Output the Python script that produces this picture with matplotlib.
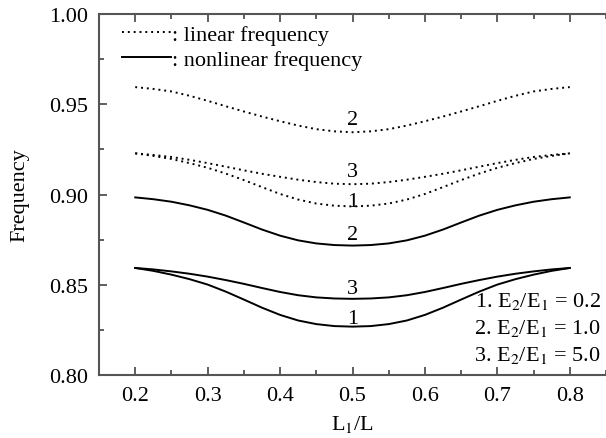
import numpy as np
import matplotlib
matplotlib.use("Agg")
import matplotlib.pyplot as plt
from matplotlib.ticker import MultipleLocator

plt.rcParams['font.family'] = 'serif'
plt.rcParams['font.serif'] = ['Liberation Serif', 'DejaVu Serif']
plt.rcParams['mathtext.fontset'] = 'stix'

# L1/L positions
ratio = [0.2, 0.225, 0.25, 0.275, 0.3, 0.325, 0.35, 0.375, 0.4, 0.425, 0.45, 0.475, 0.5,
         0.525, 0.55, 0.575, 0.6, 0.625, 0.65, 0.675, 0.7, 0.725, 0.75, 0.775, 0.8]

# linear frequency, cases 1-3
lin_1 = [0.9228, 0.9214, 0.9197, 0.9174, 0.9148, 0.9116, 0.9080, 0.9041, 0.9003, 0.8972, 0.8950, 0.8938, 0.8934,
         0.8938, 0.8950, 0.8972, 0.9003, 0.9041, 0.9080, 0.9116, 0.9148, 0.9174, 0.9197, 0.9214, 0.9228]
lin_2 = [0.9595, 0.9585, 0.9571, 0.9547, 0.9519, 0.9489, 0.9460, 0.9432, 0.9406, 0.9382, 0.9362, 0.9350, 0.9345,
         0.9350, 0.9362, 0.9382, 0.9406, 0.9432, 0.9460, 0.9489, 0.9519, 0.9547, 0.9571, 0.9585, 0.9595]
lin_3 = [0.9228, 0.9219, 0.9208, 0.9192, 0.9174, 0.9154, 0.9134, 0.9115, 0.9098, 0.9082, 0.9069, 0.9060, 0.9057,
         0.9060, 0.9069, 0.9082, 0.9098, 0.9115, 0.9134, 0.9154, 0.9174, 0.9192, 0.9208, 0.9219, 0.9228]

# nonlinear frequency, cases 1-3
non_1 = [0.8593, 0.8577, 0.8556, 0.8531, 0.8501, 0.8462, 0.8418, 0.8373, 0.8333, 0.8302, 0.8282, 0.8271, 0.8268,
         0.8271, 0.8282, 0.8302, 0.8333, 0.8373, 0.8418, 0.8462, 0.8501, 0.8531, 0.8556, 0.8577, 0.8593]
non_2 = [0.8984, 0.8974, 0.8960, 0.8940, 0.8915, 0.8883, 0.8845, 0.8806, 0.8772, 0.8746, 0.8729, 0.8720, 0.8717,
         0.8720, 0.8729, 0.8746, 0.8772, 0.8806, 0.8845, 0.8883, 0.8915, 0.8940, 0.8960, 0.8974, 0.8984]
non_3 = [0.8593, 0.8585, 0.8574, 0.8561, 0.8545, 0.8526, 0.8505, 0.8482, 0.8460, 0.8442, 0.8430, 0.8424, 0.8422,
         0.8424, 0.8430, 0.8442, 0.8460, 0.8482, 0.8505, 0.8526, 0.8545, 0.8561, 0.8574, 0.8585, 0.8593]

# curve labels at L1/L = 0.5 (baseline heights)
curve_tags = ['2', '3', '1', '2', '3', '1']
tag_y = [0.9390, 0.9101, 0.8935, 0.8753, 0.8453, 0.8288]

case_text = ['1. E$_2$/E$_1$ = 0.2', '2. E$_2$/E$_1$ = 1.0', '3. E$_2$/E$_1$ = 5.0']

fs = 16

fig = plt.figure(figsize=(6.06, 4.39), dpi=100)
ax = fig.add_axes([0.1634, 0.1435, 0.8366, 0.8223])

dot = (0, (1, 2))
lw = 1.4
h_lin = None
for ys in (lin_1, lin_2, lin_3):
    h_lin, = ax.plot(ratio, ys, color='black', linestyle=dot, lw=lw)
h_non = None
for ys in (non_1, non_2, non_3):
    h_non, = ax.plot(ratio, ys, color='black', linestyle='-', lw=lw)

for t, y in zip(curve_tags, tag_y):
    ax.text(0.5, y, t, ha='center', va='baseline', fontsize=fs)

for i, s in enumerate(case_text):
    ax.text(0.99, 0.19 - i * 0.074, s, transform=ax.transAxes,
            ha='right', va='baseline', fontsize=fs)

ax.legend([h_lin, h_non], [': linear frequency', ': nonlinear frequency'],
          loc='upper left', bbox_to_anchor=(0.045, 0.972), frameon=False,
          fontsize=fs, handlelength=2.2, handletextpad=0.05,
          borderpad=0, borderaxespad=0, labelspacing=0.22)

ax.set_xlim(0.15, 0.85)
ax.set_ylim(0.80, 1.00)
ax.xaxis.set_major_locator(MultipleLocator(0.1))
ax.xaxis.set_minor_locator(MultipleLocator(0.05))
ax.yaxis.set_major_locator(MultipleLocator(0.05))
ax.yaxis.set_minor_locator(MultipleLocator(0.025))
ax.xaxis.set_major_formatter(matplotlib.ticker.FormatStrFormatter('%.1f'))
ax.yaxis.set_major_formatter(matplotlib.ticker.FormatStrFormatter('%.2f'))

ax.tick_params(which='both', direction='in', top=True, right=False,
               color='#444444', labelsize=fs)
ax.tick_params(which='major', length=6, width=1.2, pad=8)
ax.tick_params(which='minor', length=3.5, width=1.2)

for side in ('left', 'bottom', 'top'):
    ax.spines[side].set_color('#555555')
    ax.spines[side].set_linewidth(1.5)
ax.spines['right'].set_visible(False)

ax.set_xlabel('L$_1$/L', fontsize=fs, labelpad=6)
ax.set_ylabel('Frequency', fontsize=fs, labelpad=14)

fig.savefig('out.png', dpi=100)
